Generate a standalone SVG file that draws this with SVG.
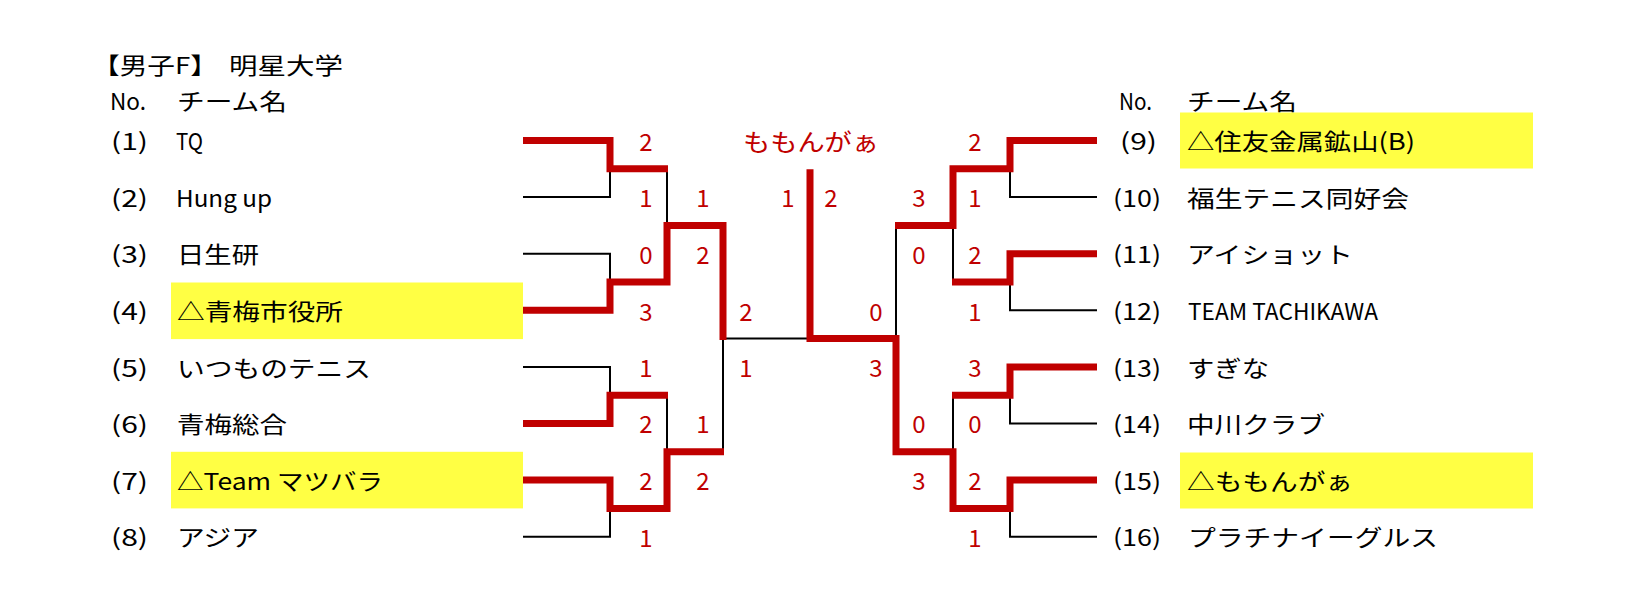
<svg xmlns="http://www.w3.org/2000/svg" width="1628" height="616" viewBox="0 0 1628 616">
<style>
text{font-family:"Noto Sans CJK JP","Noto Sans CJK SC",sans-serif;font-size:23px;fill:#000}
.sc{fill:#c00000;font-size:24px;text-anchor:middle}
.hl{fill:#ffff44}
.bk{fill:none;stroke:#000;stroke-width:2}
.rd{fill:none;stroke:#c00000;stroke-width:7;stroke-linejoin:miter;stroke-linecap:butt}
</style>
<rect width="1628" height="616" fill="#fff"/>
<g id="header">
<text y="73.5"><tspan x="92" textLength="126" lengthAdjust="spacingAndGlyphs">【男子F】</tspan><tspan x="229" textLength="114" lengthAdjust="spacingAndGlyphs">明星大学</tspan></text>
<text x="110" y="110" textLength="36" lengthAdjust="spacingAndGlyphs">No.</text>
<text x="177" y="110" textLength="110" lengthAdjust="spacingAndGlyphs">チーム名</text>
<text x="1119" y="110" textLength="33" lengthAdjust="spacingAndGlyphs">No.</text>
<text x="1187" y="110" textLength="110" lengthAdjust="spacingAndGlyphs">チーム名</text>
</g>
<g id="highlights">
<rect class="hl" x="171" y="282.5" width="352" height="56.6"/>
<rect class="hl" x="171" y="451.8" width="352" height="56.6"/>
<rect class="hl" x="1180" y="112.5" width="353" height="56"/>
<rect class="hl" x="1180" y="452.5" width="353" height="56"/>
</g>
<g id="team1"><text x="111" y="150.1" textLength="37" lengthAdjust="spacingAndGlyphs">(1)</text><text x="176" y="150.1" textLength="27" lengthAdjust="spacingAndGlyphs">TQ</text></g>
<g id="team2"><text x="111" y="206.7" textLength="37" lengthAdjust="spacingAndGlyphs">(2)</text><text x="176" y="206.7" textLength="96" lengthAdjust="spacingAndGlyphs">Hung up</text></g>
<g id="team3"><text x="111" y="263.3" textLength="37" lengthAdjust="spacingAndGlyphs">(3)</text><text x="177" y="263.3" textLength="82" lengthAdjust="spacingAndGlyphs">日生研</text></g>
<g id="team4"><text x="111" y="319.9" textLength="37" lengthAdjust="spacingAndGlyphs">(4)</text><text x="177" y="319.9" textLength="166" lengthAdjust="spacingAndGlyphs">△青梅市役所</text></g>
<g id="team5"><text x="111" y="376.5" textLength="37" lengthAdjust="spacingAndGlyphs">(5)</text><text x="177" y="376.5" textLength="194" lengthAdjust="spacingAndGlyphs">いつものテニス</text></g>
<g id="team6"><text x="111" y="433.1" textLength="37" lengthAdjust="spacingAndGlyphs">(6)</text><text x="177" y="433.1" textLength="110" lengthAdjust="spacingAndGlyphs">青梅総合</text></g>
<g id="team7"><text x="111" y="489.7" textLength="37" lengthAdjust="spacingAndGlyphs">(7)</text><text x="177" y="489.7" textLength="206" lengthAdjust="spacingAndGlyphs">△Team マツバラ</text></g>
<g id="team8"><text x="111" y="546.3" textLength="37" lengthAdjust="spacingAndGlyphs">(8)</text><text x="177" y="546.3" textLength="82" lengthAdjust="spacingAndGlyphs">アジア</text></g>
<g id="team9"><text x="1120" y="150.1" textLength="37" lengthAdjust="spacingAndGlyphs">(9)</text><text x="1187" y="150.1" textLength="228" lengthAdjust="spacingAndGlyphs">△住友金属鉱山(B)</text></g>
<g id="team10"><text x="1113" y="206.7" textLength="48" lengthAdjust="spacingAndGlyphs">(10)</text><text x="1187" y="206.7" textLength="222" lengthAdjust="spacingAndGlyphs">福生テニス同好会</text></g>
<g id="team11"><text x="1113" y="263.3" textLength="48" lengthAdjust="spacingAndGlyphs">(11)</text><text x="1187" y="263.3" textLength="166" lengthAdjust="spacingAndGlyphs">アイショット</text></g>
<g id="team12"><text x="1113" y="319.9" textLength="48" lengthAdjust="spacingAndGlyphs">(12)</text><text x="1188" y="319.9" textLength="190" lengthAdjust="spacingAndGlyphs">TEAM TACHIKAWA</text></g>
<g id="team13"><text x="1113" y="376.5" textLength="48" lengthAdjust="spacingAndGlyphs">(13)</text><text x="1187" y="376.5" textLength="82" lengthAdjust="spacingAndGlyphs">すぎな</text></g>
<g id="team14"><text x="1113" y="433.1" textLength="48" lengthAdjust="spacingAndGlyphs">(14)</text><text x="1187" y="433.1" textLength="138" lengthAdjust="spacingAndGlyphs">中川クラブ</text></g>
<g id="team15"><text x="1113" y="489.7" textLength="48" lengthAdjust="spacingAndGlyphs">(15)</text><text x="1187" y="489.7" textLength="166" lengthAdjust="spacingAndGlyphs">△ももんがぁ</text></g>
<g id="team16"><text x="1113" y="546.3" textLength="48" lengthAdjust="spacingAndGlyphs">(16)</text><text x="1188" y="546.3" textLength="250" lengthAdjust="spacingAndGlyphs">プラチナイーグルス</text></g>
<g id="connectors">
<path class="bk" d="M523,197.1H610V168.8"/>
<path class="bk" d="M523,253.7H610V282"/>
<path class="bk" d="M667,168.8V225.4"/>
<path class="bk" d="M523,366.9H610V395.2"/>
<path class="bk" d="M667,395.2V451.8"/>
<path class="bk" d="M523,536.7H610V508.4"/>
<path class="bk" d="M723,451.8V338.6"/>
<path class="bk" d="M723,338.6H810"/>
<path class="bk" d="M1097,197.1H1010V168.8"/>
<path class="bk" d="M1097,310.3H1010V282"/>
<path class="bk" d="M953,282V225.4"/>
<path class="bk" d="M896,225.4V338.6"/>
<path class="bk" d="M1097,423.5H1010V395.2"/>
<path class="bk" d="M953,395.2V451.8"/>
<path class="bk" d="M1097,536.7H1010V508.4"/>
<path class="rd" d="M523,140.5H610V168.8H668"/>
<path class="rd" d="M523,310.3H610V282H667V225.4H723V340"/>
<path class="rd" d="M523,423.5H610V395.2H668"/>
<path class="rd" d="M523,480.1H610V508.4H667V451.8H724"/>
<path class="rd" d="M1097,140.5H1010V168.8H953V225.4H895"/>
<path class="rd" d="M1097,253.7H1010V282H952"/>
<path class="rd" d="M1097,366.9H1010V395.2H952"/>
<path class="rd" d="M1097,480.1H1010V508.4H953V451.8H896V338.6H810V169.3"/>
</g>
<g id="scores">
<text class="sc" x="811" y="151" textLength="136" lengthAdjust="spacingAndGlyphs">ももんがぁ</text>
<text class="sc" x="646" y="151">2</text>
<text class="sc" x="646" y="207">1</text>
<text class="sc" x="646" y="264">0</text>
<text class="sc" x="646" y="321">3</text>
<text class="sc" x="646" y="377">1</text>
<text class="sc" x="646" y="433">2</text>
<text class="sc" x="646" y="490">2</text>
<text class="sc" x="646" y="547">1</text>
<text class="sc" x="703" y="207">1</text>
<text class="sc" x="703" y="264">2</text>
<text class="sc" x="703" y="433">1</text>
<text class="sc" x="703" y="490">2</text>
<text class="sc" x="746" y="321">2</text>
<text class="sc" x="746" y="377">1</text>
<text class="sc" x="788" y="207">1</text>
<text class="sc" x="831" y="207">2</text>
<text class="sc" x="876" y="321">0</text>
<text class="sc" x="876" y="377">3</text>
<text class="sc" x="919" y="207">3</text>
<text class="sc" x="919" y="264">0</text>
<text class="sc" x="919" y="433">0</text>
<text class="sc" x="919" y="490">3</text>
<text class="sc" x="975" y="151">2</text>
<text class="sc" x="975" y="207">1</text>
<text class="sc" x="975" y="264">2</text>
<text class="sc" x="975" y="321">1</text>
<text class="sc" x="975" y="377">3</text>
<text class="sc" x="975" y="433">0</text>
<text class="sc" x="975" y="490">2</text>
<text class="sc" x="975" y="547">1</text>
</g>
</svg>
